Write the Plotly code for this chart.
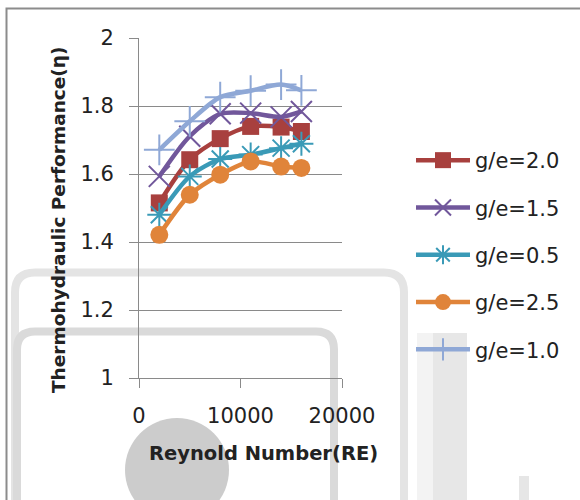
import plotly.graph_objects as go

reynolds = [2000, 5000, 8000, 11000, 14000, 16000]
series_names = ["g/e=2.0", "g/e=1.5", "g/e=0.5", "g/e=2.5", "g/e=1.0"]
ge_2_0 = [1.515, 1.642, 1.704, 1.740, 1.738, 1.725]
ge_1_5 = [1.593, 1.711, 1.777, 1.779, 1.768, 1.784]
ge_0_5 = [1.480, 1.593, 1.644, 1.657, 1.676, 1.689]
ge_2_5 = [1.421, 1.539, 1.598, 1.637, 1.622, 1.618]
ge_1_0 = [1.671, 1.755, 1.826, 1.845, 1.863, 1.846]
series_values = [ge_2_0, ge_1_5, ge_0_5, ge_2_5, ge_1_0]

colors = ["#A8403E", "#71579B", "#3A9AB7", "#E0843A", "#8FA8D6"]
symbols = ["square", "x-thin", "asterisk", "circle", "cross-thin"]
sizes = [17, 21, 20, 18, 22]

FONT = "DejaVu Sans"
TXT = "#222222"

fig = go.Figure()
for name, vals, c, s, sz in zip(series_names, series_values, colors, symbols, sizes):
    thin = s in ("x-thin", "asterisk", "cross-thin")
    fig.add_trace(go.Scatter(
        x=reynolds, y=vals, name=name, legendgroup=name,
        mode="lines+markers",
        line=dict(color=c, width=4.5, shape="spline", smoothing=0.8),
        marker=dict(symbol=s, size=sz, color=c,
                    line=dict(color=c, width=2 if thin else 0)),
    ))

L, R, T, B = 139, 238, 38, 122
W, H = 580, 500
pw = W - L - R
ph = H - T - B

def px(x, y):
    return (x - L) / pw, (H - B - y) / ph

def rounded_path(x0, y0, x1, y1, r):
    # open-bottom rounded outline (left side, top, right side)
    a0 = px(x0, y1)
    a1 = px(x0, y0 + r)
    c1 = px(x0, y0)
    a2 = px(x0 + r, y0)
    a3 = px(x1 - r, y0)
    c2 = px(x1, y0)
    a4 = px(x1, y0 + r)
    a5 = px(x1, y1)
    return (f"M{a0[0]},{a0[1]} L{a1[0]},{a1[1]} Q{c1[0]},{c1[1]} {a2[0]},{a2[1]} "
            f"L{a3[0]},{a3[1]} Q{c2[0]},{c2[1]} {a4[0]},{a4[1]} L{a5[0]},{a5[1]}")

def rect(x0, y0, x1, y1, color):
    p0 = px(x0, y1)
    p1 = px(x1, y0)
    return dict(type="rect", xref="paper", yref="paper", x0=p0[0], y0=p0[1],
                x1=p1[0], y1=p1[1], fillcolor=color, line=dict(width=0),
                layer="below")

cx0, cy0 = px(125, 418)
cx1, cy1 = px(229, 522)

shapes = [
    rect(417, 333, 433, 520, "#f3f3f3"),
    rect(433, 333, 467, 520, "#e7e7e7"),
    rect(519, 476, 529, 520, "#e6e6e6"),
    dict(type="path", xref="paper", yref="paper",
         path=rounded_path(15, 272.5, 404, 520, 20),
         line=dict(color="#e4e4e4", width=8), layer="below"),
    dict(type="path", xref="paper", yref="paper",
         path=rounded_path(17, 331.5, 334, 520, 18),
         line=dict(color="#dadada", width=8), layer="below"),
    dict(type="circle", xref="paper", yref="paper",
         x0=cx0, y0=cy1, x1=cx1, y1=cy0,
         fillcolor="#cccccc", line=dict(width=0), layer="below"),
]

fx0, fy0 = px(6.5, 8.5)
fx1, fy1 = px(600, 520)
shapes.append(dict(type="rect", xref="paper", yref="paper",
                   x0=fx0, y0=fy1, x1=fx1, y1=fy0,
                   line=dict(color="#8c8c8c", width=2), layer="below"))

ytx, yty = px(58, 220)
xtx, xty = px(263, 453)
lgx, lgy = px(411, 140)

fig.update_layout(
    width=W, height=H,
    margin=dict(l=L, r=R, t=T, b=B),
    paper_bgcolor="white", plot_bgcolor="rgba(0,0,0,0)",
    font=dict(family=FONT, size=21, color=TXT),
    showlegend=True,
    legend=dict(x=lgx, y=lgy, xanchor="left", yanchor="top",
                font=dict(size=21, family=FONT, color=TXT),
                tracegroupgap=17, traceorder="grouped",
                itemwidth=54, bgcolor="rgba(0,0,0,0)"),
    xaxis=dict(range=[0, 20000], tickvals=[0, 10000, 20000],
               ticktext=["0", "10000", "20000"],
               showgrid=False, zeroline=False, showline=True,
               linecolor="#8a8a8a", linewidth=1,
               ticks="outside", ticklen=9, tickcolor="#8a8a8a",
               ticklabelstandoff=10, fixedrange=True),
    yaxis=dict(range=[1, 2], tickvals=[1, 1.2, 1.4, 1.6, 1.8, 2],
               ticktext=["1", "1.2", "1.4", "1.6", "1.8", "2"],
               showgrid=True, gridcolor="#8a8a8a", gridwidth=1,
               zeroline=False, showline=True, linecolor="#8a8a8a",
               linewidth=1, ticks="outside", ticklen=9, tickcolor="#8a8a8a",
               ticklabelstandoff=11, fixedrange=True),
    shapes=shapes,
    annotations=[
        dict(text="<b>Thermohydraulic Performance(η)</b>", textangle=-90,
             xref="paper", yref="paper", x=ytx, y=yty,
             xanchor="center", yanchor="middle",
             showarrow=False, font=dict(size=18.5, family=FONT, color=TXT)),
        dict(text="<b>Reynold Number(RE)</b>",
             xref="paper", yref="paper", x=xtx, y=xty,
             xanchor="center", yanchor="middle",
             showarrow=False, font=dict(size=19.5, family=FONT, color=TXT)),
    ],
)

fig.write_html("out.html")
